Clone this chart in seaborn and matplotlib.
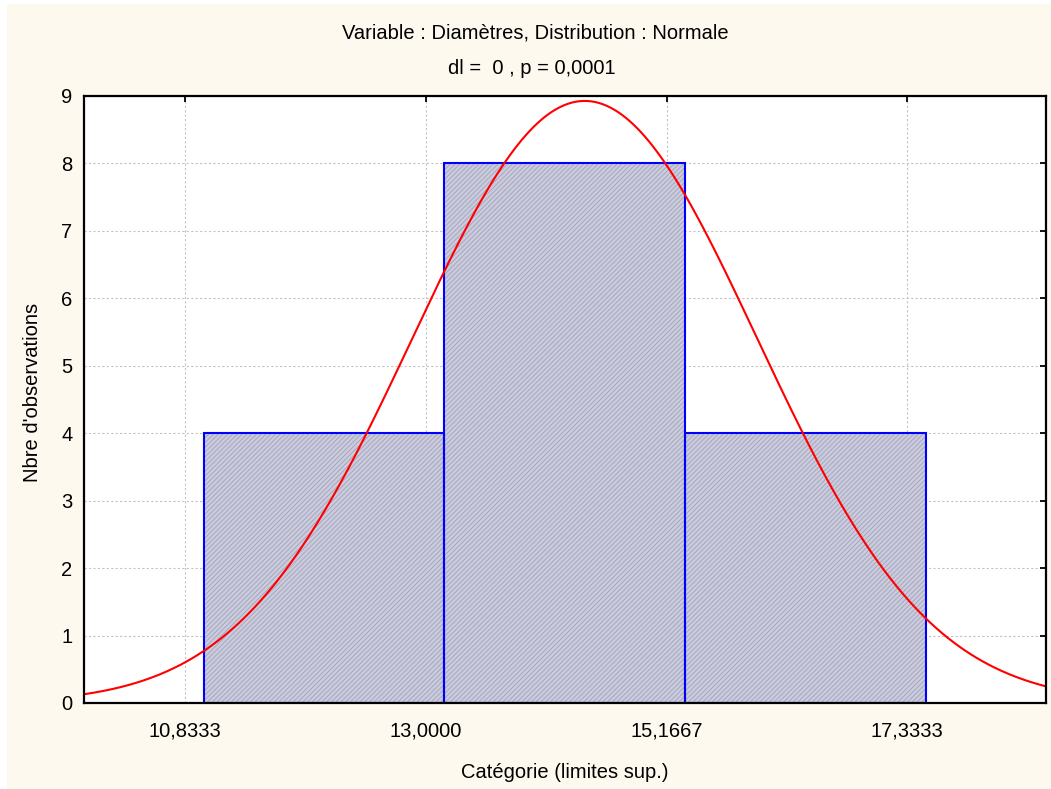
import numpy as np
import pandas as pd
import matplotlib
matplotlib.use("Agg")
import matplotlib.pyplot as plt
from matplotlib.patches import Rectangle
import seaborn as sns

# Histogram classes (upper limits) and observed counts
bin_edges = [11.0, 13.1667, 15.3333, 17.5]
counts = [4, 8, 4]

# Axis ticks
x_tick_values = [10.8333, 13.0, 15.1667, 17.3333]
x_tick_labels = ["10,8333", "13,0000", "15,1667", "17,3333"]
y_tick_values = [0, 1, 2, 3, 4, 5, 6, 7, 8, 9]
x_range = (9.917, 18.583)
y_range = (0, 9)

# Fitted normal distribution
fit_mean = 14.43
fit_sd = 1.55

title_line1 = "Variable : Diamètres, Distribution : Normale"
title_line2 = "dl =  0 , p = 0,0001"
x_label = "Catégorie (limites sup.)"
y_label = "Nbre d'observations"

cream = "#FEF9EE"
bar_fill = "#CACBDD"
hatch_col = "#A2A3BA"
bar_edge = "#0000FF"
curve_col = "#FF0000"
font_size = 14.5

sns.set_theme(style="white")
plt.rcParams["font.family"] = ["Liberation Sans", "DejaVu Sans"]
plt.rcParams["hatch.linewidth"] = 0.6
plt.rcParams["text.color"] = "black"

fig = plt.figure(figsize=(10.51, 7.89), dpi=100, facecolor="white")
# cream page with a thin white margin on the top and left
fig.patches.append(Rectangle((7 / 1051, 0), 1 - 7 / 1051, 1 - 4 / 789,
                             transform=fig.transFigure, facecolor=cream,
                             edgecolor="none", zorder=-10))

ax = fig.add_axes([83.5 / 1051, (789 - 703) / 789,
                   (1046 - 83.5) / 1051, (703 - 95.7) / 789])
ax.set_facecolor("white")

centres = [(a + b) / 2 for a, b in zip(bin_edges[:-1], bin_edges[1:])]
df = pd.DataFrame({"centre": centres, "count": counts})

# hatched fill
sns.histplot(data=df, x="centre", weights="count", bins=bin_edges,
             stat="count", color=bar_fill, edgecolor=hatch_col,
             linewidth=0, alpha=1, hatch="///////", ax=ax)
# blue outlines
sns.histplot(data=df, x="centre", weights="count", bins=bin_edges,
             stat="count", fill=False, color=bar_edge, linewidth=1.5, ax=ax)

# expected frequencies of the fitted normal curve
bin_width = bin_edges[1] - bin_edges[0]
n_obs = sum(counts)
xs = np.linspace(x_range[0], x_range[1], 500)
ys = n_obs * bin_width * np.exp(-0.5 * ((xs - fit_mean) / fit_sd) ** 2) / (fit_sd * np.sqrt(2 * np.pi))
sns.lineplot(x=xs, y=ys, color=curve_col, linewidth=1.5, ax=ax)

ax.set_xlim(*x_range)
ax.set_ylim(*y_range)
ax.set_xticks(x_tick_values)
ax.set_xticklabels(x_tick_labels)
ax.set_yticks(y_tick_values)
ax.set_yticklabels([str(v) for v in y_tick_values])
ax.set_xlabel("")
ax.set_ylabel("")

ax.grid(True, color="#C4C4C4", linestyle=(0, (2, 2)), linewidth=0.8)
ax.set_axisbelow(True)

for s in ax.spines.values():
    s.set_visible(True)
    s.set_color("black")
    s.set_linewidth(1.6)

ax.tick_params(axis="both", direction="in", length=4, width=1.3, color="black",
               top=True, right=True, labelsize=font_size, labelcolor="black")
ax.tick_params(axis="x", pad=13)
ax.tick_params(axis="y", pad=8)

fig.text(535 / 1051, 1 - 33 / 789, title_line1, ha="center", va="center",
         fontsize=font_size, color="black")
fig.text(532 / 1051, 1 - 68 / 789, title_line2, ha="center", va="center",
         fontsize=font_size, color="black")
fig.text(565 / 1051, 1 - 772 / 789, x_label, ha="center", va="center",
         fontsize=font_size, color="black")
fig.text(33 / 1051, 1 - 392 / 789, y_label, ha="center", va="center",
         rotation=90, fontsize=font_size, color="black")

fig.savefig("out.png", dpi=100, facecolor=fig.get_facecolor())
